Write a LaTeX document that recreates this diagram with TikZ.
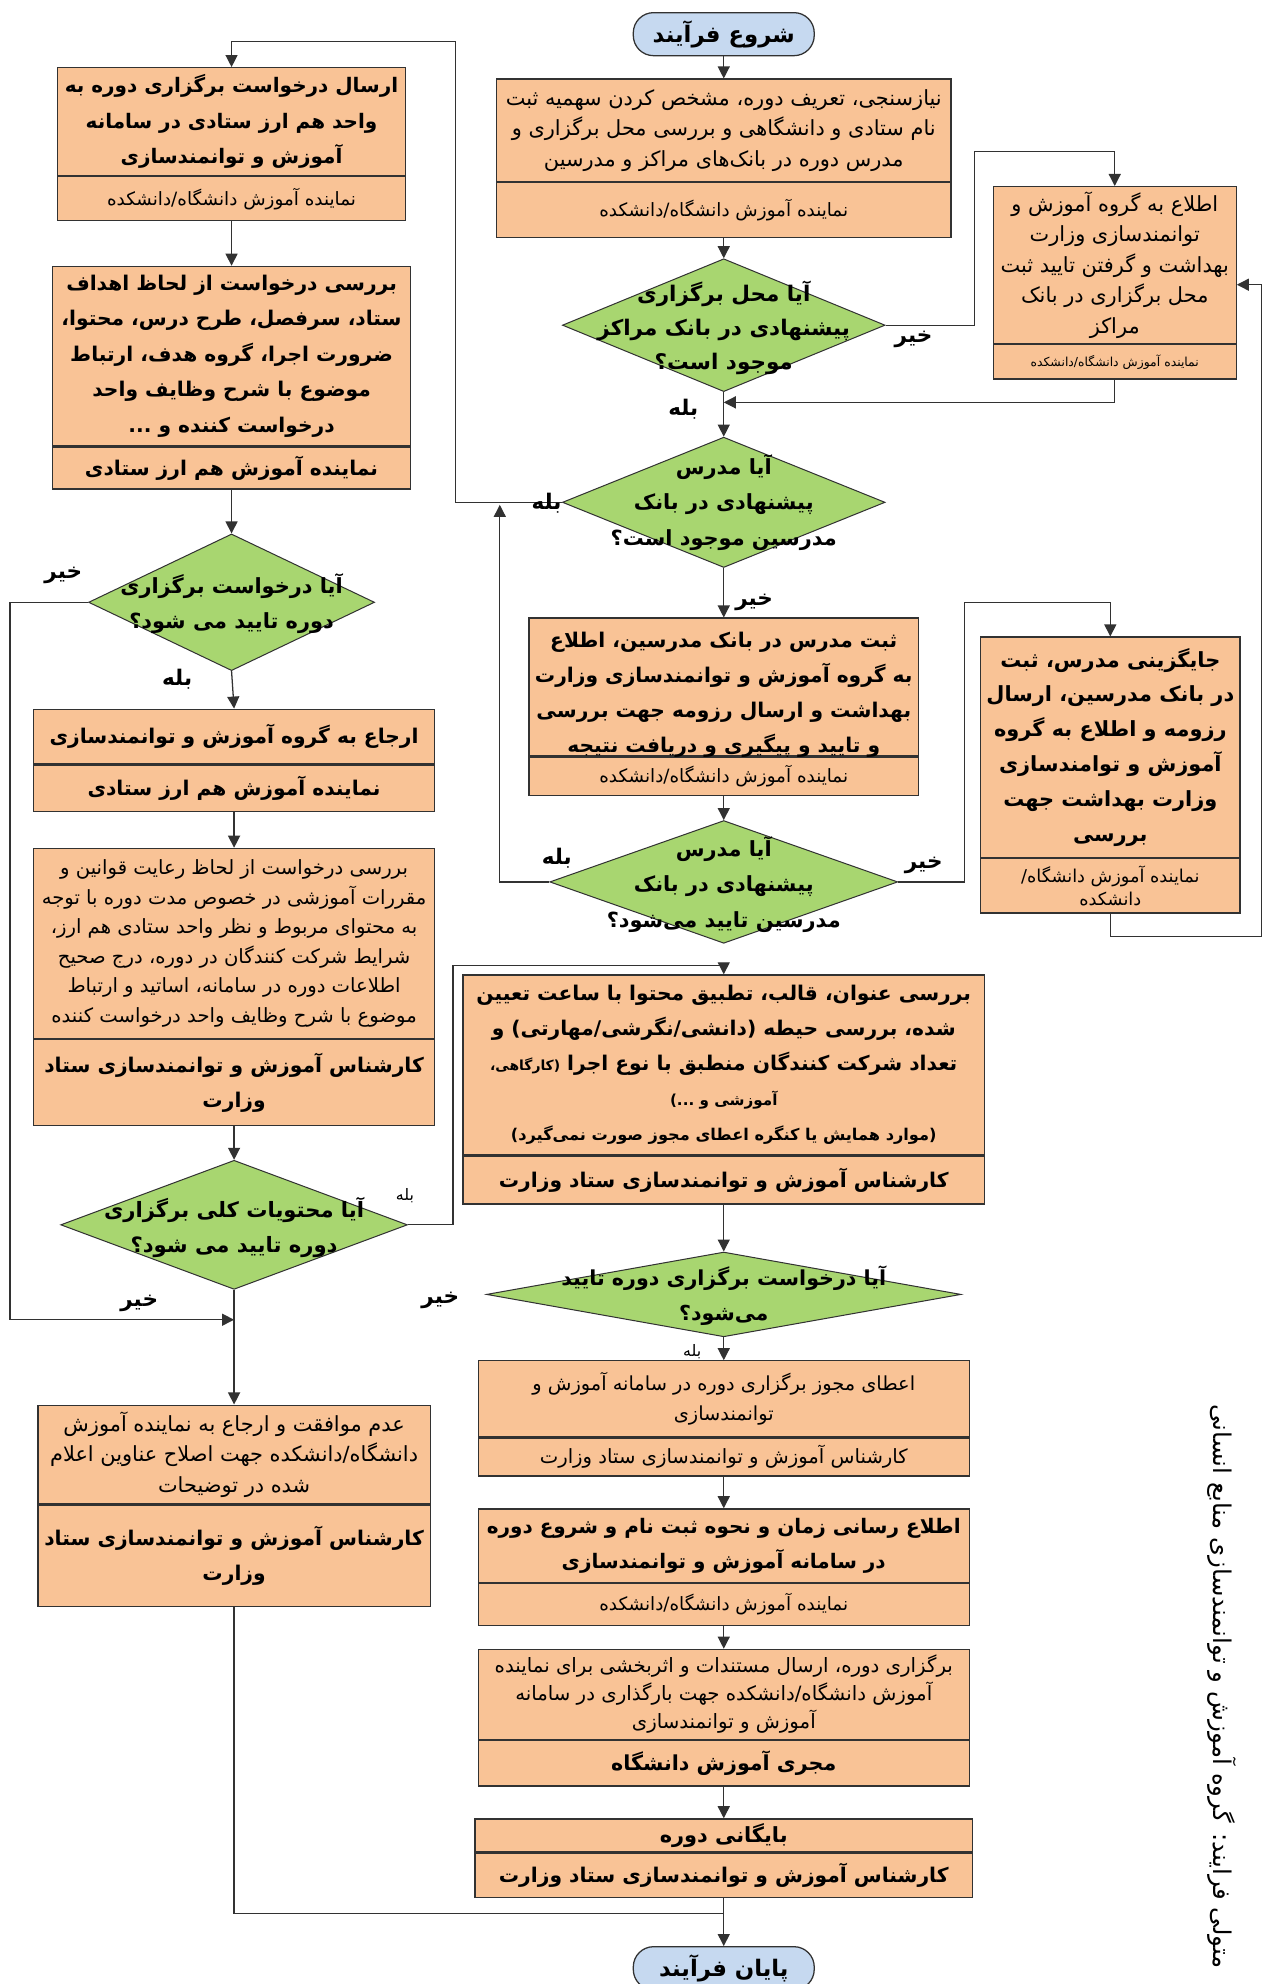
\documentclass[tikz,border=0pt]{standalone}
\usepackage{fontspec}
\setmainfont{DejaVu Sans}[Script=Arabic]
\usetikzlibrary{shapes.geometric,arrows.meta}
\TeXXeTstate=1
\newcommand\fatx[1]{\beginR #1\endR}
\newcommand\fA{\fontsize{16}{27.5}\selectfont\bfseries}
\newcommand\fB{\fontsize{15.5}{23.3}\selectfont}
\newcommand\fBB{\fontsize{16.5}{24}\selectfont}
\newcommand\fC{\fontsize{14.5}{18}\selectfont}
\newcommand\fD{\fontsize{9.8}{12}\selectfont}
\definecolor{orng}{RGB}{249,195,150}
\definecolor{grn}{RGB}{168,214,112}
\definecolor{blu}{RGB}{198,217,240}
\definecolor{bord}{RGB}{50,50,50}
\tikzset{
  box/.style={draw=bord, fill=orng, line width=1pt, inner sep=1pt, align=center, anchor=north},
  dia/.style={draw=bord, fill=grn, diamond, line width=0.8pt, inner sep=0pt},
  term/.style={draw=bord, fill=blu, rounded corners=16pt, line width=1pt, inner sep=1pt},
  txt/.style={align=center, inner sep=0pt},
  lbl/.style={font=\fontsize{17}{20}\selectfont\bfseries, inner sep=0pt},
  arr/.style={-{Triangle[length=9.5pt,width=9.5pt]}, line width=1pt, draw=bord},
  ln/.style={line width=1pt, draw=bord}
}
\begin{document}
\begin{tikzpicture}[x=1pt,y=-1pt]
\clip (0,0) rectangle (998,1568);
\fill[white] (0,0) rectangle (998,1568);

% ---------- middle column ----------
\node[term, minimum width=143pt, minimum height=34pt, font=\fontsize{18}{20}\selectfont\bfseries] (S) at (572,27) {\fatx{شروع فرآیند}};

\node[box, minimum width=359pt, minimum height=81pt, font=\fBB] (M1) at (572,62)
 {\fatx{نیازسنجی، تعریف دوره، مشخص کردن سهمیه ثبت}\\\fatx{نام ستادی و دانشگاهی و بررسی محل برگزاری و}\\\fatx{مدرس دوره در بانک‌های مراکز و مدرسین}};
\node[box, minimum width=359pt, minimum height=43pt, font=\fC] (M1s) at (M1.south) {\fatx{نماینده آموزش دانشگاه/دانشکده}};

\node[dia, minimum width=255pt, minimum height=105pt] (D1) at (572,257) {};
\node[txt, font=\fontsize{17}{27}\selectfont\bfseries] (D1t) at (572,259) {\fatx{آیا محل برگزاری}\\\fatx{پیشنهادی در بانک مراکز}\\\fatx{موجود است؟}};

\node[box, minimum width=192pt, minimum height=124pt, font=\fBB] (R1) at (881,147)
 {\fatx{اطلاع به گروه آموزش و}\\\fatx{توانمندسازی وزارت}\\\fatx{بهداشت و گرفتن تایید ثبت}\\\fatx{محل برگزاری در بانک}\\\fatx{مراکز}};
\node[box, minimum width=192pt, minimum height=27pt, font=\fD] (R1s) at (R1.south) {\fatx{نماینده آموزش دانشگاه/دانشکده}};

\node[dia, minimum width=255pt, minimum height=103pt] (D2) at (572,397) {};
\node[txt, font=\fontsize{16.5}{28}\selectfont\bfseries] (D2t) at (572,397) {\fatx{آیا مدرس}\\\fatx{پیشنهادی در بانک}\\\fatx{مدرسین موجود است؟}};

\node[box, minimum width=308pt, minimum height=109pt] (M2) at (572,488) {};
\node[txt, font=\fA] (M2t) at (572,549) {\fatx{ثبت مدرس در بانک مدرسین، اطلاع}\\\fatx{به گروه آموزش و توانمندسازی وزارت}\\\fatx{بهداشت و ارسال رزومه جهت بررسی}\\\fatx{و تایید و پیگیری و دریافت نتیجه}};
\node[box, minimum width=308pt, minimum height=30pt, font=\fC] (M2s) at (M2.south) {\fatx{نماینده آموزش دانشگاه/دانشکده}};

\node[dia, minimum width=275pt, minimum height=97pt] (D3) at (572,697) {};
\node[txt, font=\fontsize{16.5}{28}\selectfont\bfseries] (D3t) at (572,699) {\fatx{آیا مدرس}\\\fatx{پیشنهادی در بانک}\\\fatx{مدرسین تایید می‌شود؟}};

\node[box, minimum width=205pt, minimum height=174pt, font=\fontsize{16.5}{27.5}\selectfont\bfseries] (R2) at (877.5,503)
 {\fatx{جایگزینی مدرس، ثبت}\\\fatx{در بانک مدرسین، ارسال}\\\fatx{رزومه و اطلاع به گروه}\\\fatx{آموزش و توامندسازی}\\\fatx{وزارت بهداشت جهت}\\\fatx{بررسی}};
\node[box, minimum width=205pt, minimum height=43pt, font=\fontsize{14}{18}\selectfont] (R2s) at (R2.south) {\fatx{نماینده آموزش دانشگاه/}\\\fatx{دانشکده}};

\node[box, minimum width=412pt, minimum height=142pt, font=\fA] (M4) at (572,770)
 {\fatx{بررسی عنوان، قالب، تطبیق محتوا با ساعت تعیین}\\\fatx{شده، بررسی حیطه (دانشی/نگرشی/مهارتی) و}\\\fatx{تعداد شرکت کنندگان منطبق با نوع اجرا {\fontsize{11}{14}\selectfont(کارگاهی،}}\\{\fontsize{12}{24}\selectfont\fatx{آموزشی و ...)}}\\{\fontsize{12.8}{26}\selectfont\fatx{(موارد همایش یا کنگره اعطای مجوز صورت نمی‌گیرد)}}};
\node[box, minimum width=412pt, minimum height=38pt, font=\fA] (M4s) at (M4.south) {\fatx{کارشناس آموزش و توانمندسازی ستاد وزارت}};

\node[dia, minimum width=375pt, minimum height=67pt] (D4) at (572,1023) {};
\node[txt, font=\fontsize{16.3}{27}\selectfont\bfseries] (D4t) at (572,1024) {\fatx{آیا درخواست برگزاری دوره تایید}\\\fatx{می‌شود؟}};

\node[box, minimum width=388pt, minimum height=60pt, font=\fontsize{15.3}{23}\selectfont] (M5) at (572,1075)
 {\fatx{اعطای مجوز برگزاری دوره در سامانه آموزش و}\\\fatx{توانمندسازی}};
\node[box, minimum width=388pt, minimum height=30pt, font=\fontsize{15.5}{20}\selectfont] (M5s) at (M5.south) {\fatx{کارشناس آموزش و توانمندسازی ستاد وزارت}};

\node[box, minimum width=388pt, minimum height=58pt, font=\fontsize{15.8}{28}\selectfont\bfseries] (M6) at (572,1192)
 {\fatx{اطلاع رسانی زمان و نحوه ثبت نام و شروع دوره}\\\fatx{در سامانه آموزش و توانمندسازی}};
\node[box, minimum width=388pt, minimum height=33pt, font=\fC] (M6s) at (M6.south) {\fatx{نماینده آموزش دانشگاه/دانشکده}};

\node[box, minimum width=388pt, minimum height=71pt, font=\fontsize{15.6}{22}\selectfont] (M7) at (572,1303)
 {\fatx{برگزاری دوره، ارسال مستندات و اثربخشی برای نماینده}\\\fatx{آموزش دانشگاه/دانشکده جهت بارگذاری در سامانه}\\\fatx{آموزش و توانمندسازی}};
\node[box, minimum width=388pt, minimum height=36pt, font=\fontsize{16.3}{20}\selectfont\bfseries] (M7s) at (M7.south) {\fatx{مجری آموزش دانشگاه}};

\node[box, minimum width=393pt, minimum height=26pt, font=\fontsize{16.5}{20}\selectfont\bfseries] (M8) at (572,1437) {\fatx{بایگانی دوره}};
\node[box, minimum width=393pt, minimum height=35pt, font=\fA] (M8s) at (M8.south) {\fatx{کارشناس آموزش و توانمندسازی ستاد وزارت}};

\node[term, minimum width=143pt, minimum height=34pt, font=\fontsize{18}{20}\selectfont\bfseries, anchor=north] (E) at (572,1538) {\fatx{پایان فرآیند}};

% ---------- left column ----------
\node[box, minimum width=275pt, minimum height=85pt, font=\fontsize{15.8}{28}\selectfont\bfseries] (L1) at (183,53)
 {\fatx{ارسال درخواست برگزاری دوره به}\\\fatx{واحد هم ارز ستادی در سامانه}\\\fatx{آموزش و توانمندسازی}};
\node[box, minimum width=275pt, minimum height=35pt, font=\fC] (L1s) at (L1.south) {\fatx{نماینده آموزش دانشگاه/دانشکده}};

\node[box, minimum width=283pt, minimum height=142pt, font=\fontsize{16}{28}\selectfont\bfseries] (L2) at (183,210)
 {\fatx{بررسی درخواست از لحاظ اهداف}\\\fatx{ستاد، سرفصل، طرح درس، محتوا،}\\\fatx{ضرورت اجرا، گروه هدف، ارتباط}\\\fatx{موضوع با شرح وظایف واحد}\\\fatx{درخواست کننده و ...}};
\node[box, minimum width=283pt, minimum height=33pt, font=\fA] (L2s) at (L2.south) {\fatx{نماینده آموزش هم ارز ستادی}};

\node[dia, minimum width=226pt, minimum height=108pt] (L3) at (183,476) {};
\node[txt, font=\fontsize{16.5}{28}\selectfont\bfseries] (L3t) at (183,477) {\fatx{آیا درخواست برگزاری}\\\fatx{دوره تایید می شود؟}};

\node[box, minimum width=317pt, minimum height=43pt, font=\fA] (L4) at (185,560) {\fatx{ارجاع به گروه آموزش و توانمندسازی}};
\node[box, minimum width=317pt, minimum height=37pt, font=\fA] (L4s) at (L4.south) {\fatx{نماینده آموزش هم ارز ستادی}};

\node[box, minimum width=317pt, minimum height=150pt, font=\fB] (L5) at (185,670)
 {\fatx{بررسی درخواست از لحاظ رعایت قوانین و}\\\fatx{مقررات آموزشی در خصوص مدت دوره با توجه}\\\fatx{به محتوای مربوط و نظر واحد ستادی هم ارز،}\\\fatx{شرایط شرکت کنندگان در دوره، درج صحیح}\\\fatx{اطلاعات دوره در سامانه، اساتید و ارتباط}\\\fatx{موضوع با شرح وظایف واحد درخواست کننده}};
\node[box, minimum width=317pt, minimum height=68pt, font=\fA] (L5s) at (L5.south) {\fatx{کارشناس آموزش و توانمندسازی ستاد}\\\fatx{وزارت}};

\node[dia, minimum width=274pt, minimum height=102pt] (L6) at (185,968) {};
\node[txt, font=\fontsize{16.7}{28}\selectfont\bfseries] (L6t) at (185,970) {\fatx{آیا محتویات کلی برگزاری}\\\fatx{دوره تایید می شود؟}};

\node[box, minimum width=310pt, minimum height=78pt, font=\fBB] (L7) at (185,1110)
 {\fatx{عدم موافقت و ارجاع به نماینده آموزش}\\\fatx{دانشگاه/دانشکده جهت اصلاح عناوین اعلام}\\\fatx{شده در توضیحات}};
\node[box, minimum width=310pt, minimum height=80pt, font=\fA] (L7s) at (L7.south) {\fatx{کارشناس آموزش و توانمندسازی ستاد}\\\fatx{وزارت}};

% ---------- side title ----------
\node[rotate=-90, inner sep=0pt, font=\fontsize{19.3}{22}\selectfont] (T) at (966,1333) {\fatx{متولی فرایند: گروه آموزش و توانمندسازی منابع انسانی}};

% ---------- helper coordinates ----------
\coordinate (c1) at (770,120);
\coordinate (c2) at (572,318);
\coordinate (c3) at (360,33);
\coordinate (c4) at (395,399);
\coordinate (c5) at (762,476);
\coordinate (c6) at (997,740);
\coordinate (c7) at (997,225);
\coordinate (c8) at (358,763);
\coordinate (c9) at (8,1043);
\coordinate (c10) at (185,1043);
\coordinate (c11) at (572,1512);

% ---------- connectors ----------
\draw[arr] (S.south) -- (M1.north);
\draw[arr] (M1s.south) -- (D1.north);
\draw[arr] (D1.east) -| (c1) -| (R1.north);
\draw[arr] (R1s.south) |- (c2);
\draw[arr] (D1.south) -- (D2.north);
\draw[arr] (D2.west) -| (c3) -| (L1.north);
\draw[arr] (D2.south) -- (M2.north);
\draw[arr] (M2s.south) -- (D3.north);
\draw[arr] (D3.west) -| (c4);
\draw[arr] (D3.east) -| (c5) -| (R2.north);
\draw[arr] (R2s.south) |- (c6) -- (c7) -- (R1.east |- c7);
\draw[arr] (L6.east) -| (c8) -| (M4.north);
\draw[arr] (M4s.south) -- (D4.north);
\draw[arr] (D4.south) -- (M5.north);
\draw[arr] (M5s.south) -- (M6.north);
\draw[arr] (M6s.south) -- (M7.north);
\draw[arr] (M7s.south) -- (M8.north);
\draw[arr] (M8s.south) -- (E.north);

\draw[arr] (L1s.south) -- (L1s.south |- L2.north);
\draw[arr] (L2s.south) -- (L3.north);
\draw[arr] (L3.south) -- (L4.north);
\draw[arr] (L4s.south) -- (L5.north);
\draw[arr] (L5s.south) -- (L6.north);
\draw[arr] (L6.south) -- (L7.north);
\draw[arr] (L3.west) -| (c9) -- (c10);
\draw[ln] (L7s.south) |- (c11);

% ---------- labels ----------
\node[lbl] (y1) at (722,268) {\fatx{خیر}};
\node[lbl] (y2) at (540,323) {\fatx{بله}};
\node[lbl] (y3) at (432,398) {\fatx{بله}};
\node[lbl] (y4) at (596,476) {\fatx{خیر}};
\node[lbl] (y5) at (440,678) {\fatx{بله}};
\node[lbl] (y6) at (730,684) {\fatx{خیر}};
\node[lbl] (y7) at (50,455) {\fatx{خیر}};
\node[lbl] (y8) at (140,537) {\fatx{بله}};
\node[inner sep=0pt, font=\fontsize{12.5}{14}\selectfont] (y9) at (320,945) {\fatx{بله}};
\node[lbl] (y10) at (110,1030) {\fatx{خیر}};
\node[lbl] (y11) at (348,1028) {\fatx{خیر}};
\node[inner sep=0pt, font=\fontsize{12.5}{14}\selectfont] (y12) at (547,1068) {\fatx{بله}};
\end{tikzpicture}
\end{document}
